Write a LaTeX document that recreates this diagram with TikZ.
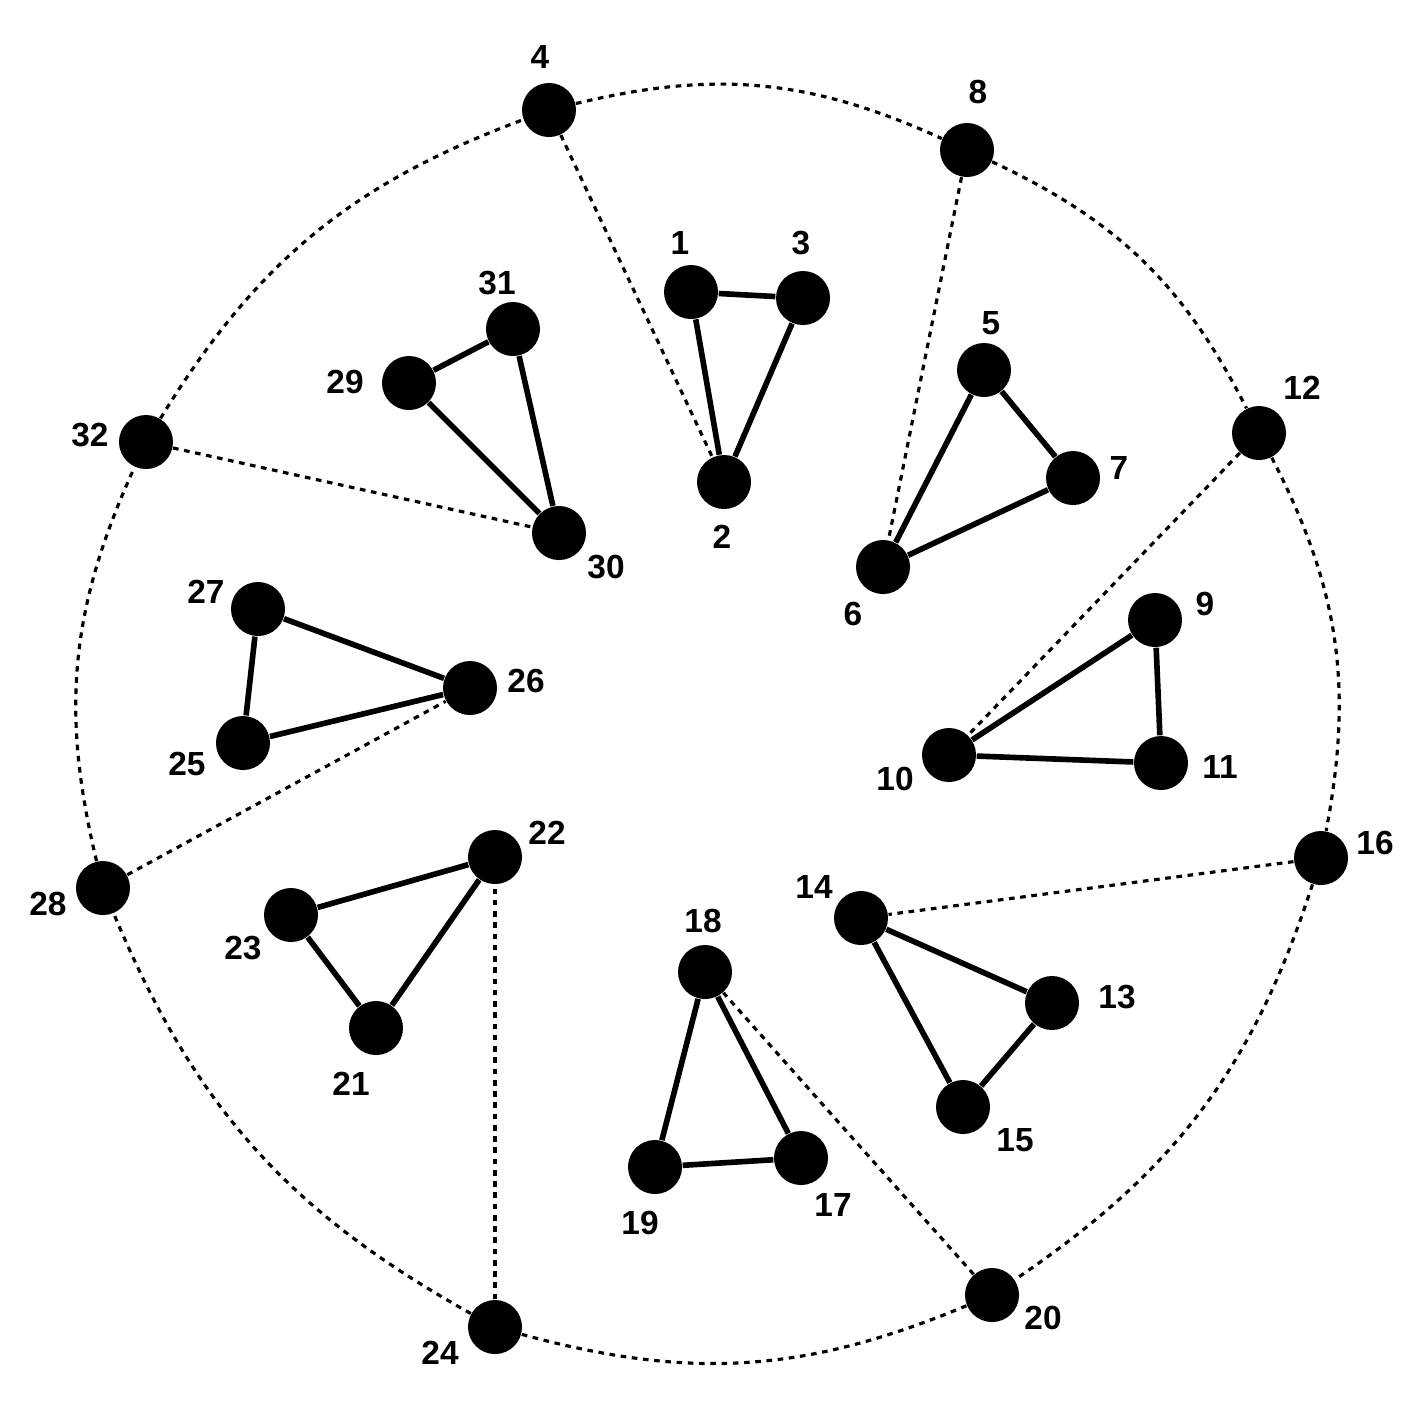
\documentclass[tikz,border=0pt]{standalone}
\usepackage{fontspec}
\setmainfont{Liberation Sans}
\begin{document}
\begin{tikzpicture}[x=0.01cm,y=-0.01cm,
 v/.style={circle,fill=black,minimum size=0.54cm,inner sep=0pt},
 lb/.style={font=\fontsize{9.5}{11}\selectfont\bfseries},
 tri/.style={line width=1.6pt},
 dot/.style={line width=0.9pt,dash pattern=on 1.6pt off 1.6pt}]
\useasboundingbox (0,0) rectangle (1419,1402);
\foreach \n/\x/\y/\lx/\ly in {4/549/110/540/57,8/967/150/978/92,12/1259/433/1302/388,16/1321/858/1375/843,20/992/1295/1043/1318,24/495/1327/440/1353,28/103/888/48/904,32/146/442/90/435,
1/691/292/680/243,3/803/298/801/243,2/724/482/722/537,5/984/370/991/323,7/1073/478/1119/468,6/883/567/853/614,9/1155/620/1205/604,11/1161/763/1220/767,10/949/755/895/779,14/861/918/814/887,13/1052/1003/1117/997,15/963/1107/1015/1140,18/705/972/703/921,19/655/1167/640/1223,17/801/1158/833/1205,22/495/857/547/833,23/291/915/243/948,21/376/1028/351/1084,27/258/609/206/592,26/470/688/526/681,25/243/743/187/764,31/513/329/497/283,29/409/383/345/382,30/559/533/606/567}{
 \node[v] (n\n) at (\x,\y) {};
 \node[lb] (l\n) at (\lx,\ly) {\n};
}
\foreach \a/\b in {4/8,8/12,12/16,16/20,20/24,24/28,28/32,32/4}
 \draw[dot] (n\a) to[bend left=19] (n\b);
\foreach \a/\b in {4/2,8/6,12/10,16/14,20/18,24/22,28/26,32/30}
 \draw[dot] (n\a) -- (n\b);
\foreach \a/\b/\c in {1/3/2,5/7/6,9/11/10,14/13/15,18/17/19,22/21/23,27/26/25,31/30/29}
 \draw[tri] (n\a) -- (n\b) -- (n\c) -- (n\a);
\end{tikzpicture}
\end{document}
